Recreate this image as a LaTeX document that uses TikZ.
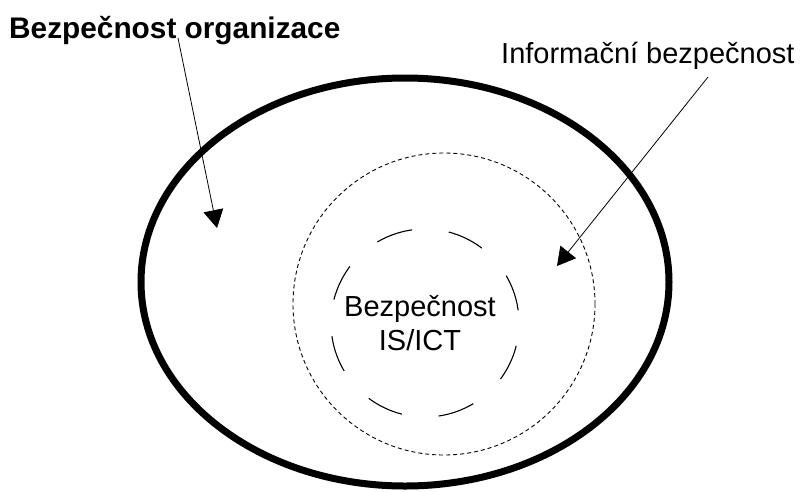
\documentclass[tikz,border=0pt]{standalone}
\usepackage{fontspec}
\setmainfont{Liberation Sans}
\usetikzlibrary{arrows.meta}
\begin{document}
\begin{tikzpicture}[x=1pt,y=-1pt,
  lbl/.style={inner sep=0pt, font=\fontsize{29}{34}\selectfont},
  outerring/.style={line width=7pt},
  dotring/.style={line width=0.9pt, dash pattern=on 4pt off 3pt},
  dashring/.style={line width=1.1pt, dash pattern=on 37pt off 37pt, dash phase=51pt},
  pointer/.style={line width=0.8pt, -{Triangle[length=18pt,width=20pt]}}]
\useasboundingbox (0,0) rectangle (801,491);
% rings
\draw[outerring] (405,282) ellipse [x radius=264, y radius=204];
\draw[dotring] (444,304) circle [radius=151];
\draw[dashring] (425,323) circle [radius=94];
% labels
\node[lbl, font=\fontsize{29.8}{34}\selectfont\bfseries, anchor=base west] (org) at (9,38) {Bezpečnost organizace};
\node[lbl, anchor=base west] (info) at (501,63) {Informační bezpečnost};
\node[lbl, align=center, anchor=center] (ict) at (420,323.5) {Bezpečnost\\IS/ICT};
% pointers
\coordinate (orgstart) at (178,38);
\coordinate (orgtip) at (217,228);
\coordinate (infostart) at (708,77);
\coordinate (infotip) at (557,266);
\draw[pointer] (orgstart) -- (orgtip);
\draw[pointer] (infostart) -- (infotip);
\end{tikzpicture}
\end{document}
